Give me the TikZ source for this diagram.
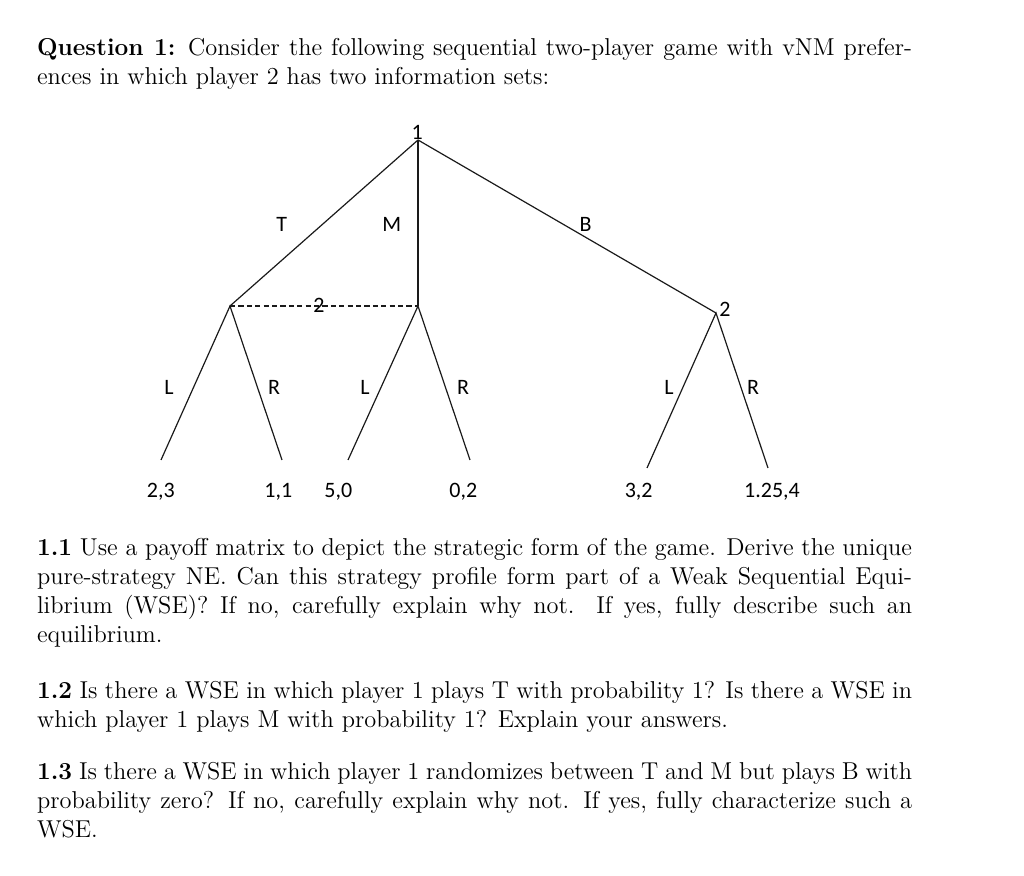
\documentclass[tikz,border=0pt]{standalone}
\usepackage{fontspec}
\newfontfamily\treefont{Carlito}
\definecolor{treeLine}{HTML}{1A1A1A}

\tikzset{
  branch/.style={draw=treeLine, line width=0.6pt},
  infoSet/.style={draw=treeLine, line width=0.6pt, dash pattern=on 2.6pt off 1.6pt},
  treeLabel/.style={anchor=base, inner sep=0pt, font=\treefont\fontsize{11}{12}\selectfont},
  bodyText/.style={anchor=base west, inner sep=0pt, text width=437.5pt, align=justify,
    font=\fontsize{12.2}{14.5}\selectfont}
}

\begin{document}
\begin{tikzpicture}[x=0.5pt, y=-0.5pt]
  \useasboundingbox (0,0) rectangle (1024,876);

  \node[bodyText] (question) at (36.7,56) {\textbf{Question 1:} Consider the following sequential two-player game with vNM prefer-\linebreak ences in which player 2 has two information sets:};

  \coordinate (root) at (418,140);
  \coordinate (moveT) at (230,306);
  \coordinate (moveM) at (418,306);
  \coordinate (moveB) at (716,313);
  \coordinate (endTL) at (161,460);
  \coordinate (endTR) at (282,460);
  \coordinate (endML) at (348,460);
  \coordinate (endMR) at (470,460);
  \coordinate (endBL) at (647,468);
  \coordinate (endBR) at (768,468);

  \draw[branch] (root) -- (moveT);
  \draw[branch] (root) -- (moveM);
  \draw[branch] (root) -- (moveB);
  \draw[infoSet] (moveT) -- (moveM);
  \draw[branch] (endTL) -- (moveT) -- (endTR);
  \draw[branch] (endML) -- (moveM) -- (endMR);
  \draw[branch] (endBL) -- (moveB) -- (endBR);

  \node[treeLabel] (player1) at (417.3,139.3) {1};
  \node[treeLabel] (player2a) at (319,313) {2};
  \node[treeLabel] (player2b) at (725,316.7) {2};
  \node[treeLabel] (labT) at (281.7,231.7) {T};
  \node[treeLabel] (labM) at (391.7,231.7) {M};
  \node[treeLabel] (labB) at (585.7,231.7) {B};
  \node[treeLabel] (labTL) at (169,395) {L};
  \node[treeLabel] (labTR) at (274,395) {R};
  \node[treeLabel] (labML) at (365,395) {L};
  \node[treeLabel] (labMR) at (463,395) {R};
  \node[treeLabel] (labBL) at (669,395) {L};
  \node[treeLabel] (labBR) at (753,395) {R};

  \node[treeLabel] (payTL) at (160.8,498) {2,3};
  \node[treeLabel] (payTR) at (278.3,498) {1,1};
  \node[treeLabel] (payML) at (338.3,498) {5,0};
  \node[treeLabel] (payMR) at (463.3,498) {0,2};
  \node[treeLabel] (payBL) at (638.7,498) {3,2};
  \node[treeLabel] (payBR) at (772,498) {1.25,4};

  \node[bodyText] (part1) at (36.7,556) {\textbf{1.1} Use a payoff matrix to depict the strategic form of the game. Derive the unique\linebreak pure-strategy NE. Can this strategy profile form part of a Weak Sequential Equi-\linebreak librium (WSE)? If no, carefully explain why not. If yes, fully describe such an\linebreak equilibrium.};
  \node[bodyText] (part2) at (36.7,699) {\textbf{1.2} Is there a WSE in which player 1 plays T with probability 1? Is there a WSE in\linebreak which player 1 plays M with probability 1? Explain your answers.};
  \node[bodyText] (part3) at (36.7,780) {\textbf{1.3} Is there a WSE in which player 1 randomizes between T and M but plays B with\linebreak probability zero? If no, carefully explain why not. If yes, fully characterize such a\linebreak WSE.};
\end{tikzpicture}
\end{document}
